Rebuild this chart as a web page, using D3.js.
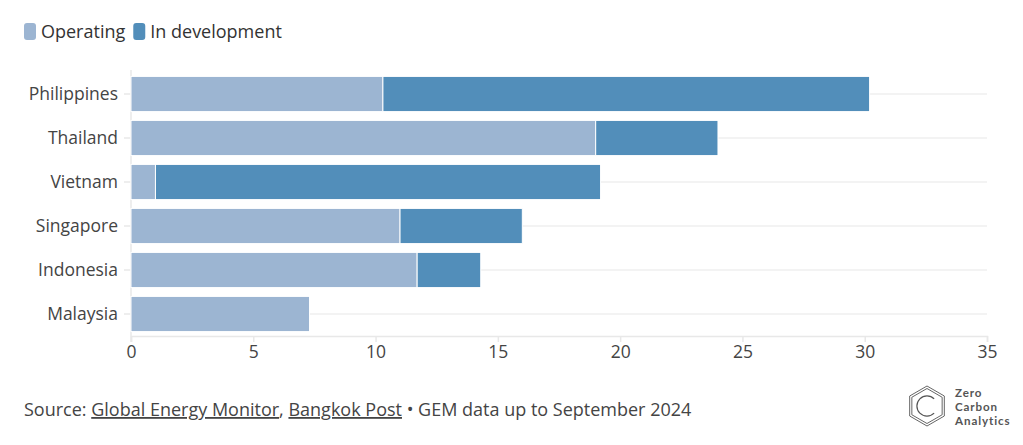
<!DOCTYPE html>
<html><head><meta charset="utf-8">
<script src="https://cdn.jsdelivr.net/npm/d3@7"></script>
<style>
body{margin:0;background:#fff;}
svg{display:block;font-family:"Open Sans",Lato,sans-serif;}
</style></head>
<body><svg id="c" width="1023" height="445"></svg>
<script>
const countries = ["Philippines","Thailand","Vietnam","Singapore","Indonesia","Malaysia"];
const operating = [10.3, 19.0, 1.0, 11.0, 11.7, 7.3];
const inDevelopment = [19.9, 5.0, 18.2, 5.0, 2.6, 0];
const seriesNames = ["Operating","In development"];
const seriesColors = ["#9cb5d2","#528eba"];
const xTicks = [0,5,10,15,20,25,30,35];

const svg = d3.select("#c");
const x = d3.scaleLinear().domain([0,35]).range([131,987]);
const y = d3.scaleBand().domain(countries).range([72,336]).paddingInner(0.2).paddingOuter(0.1);

// gridlines
svg.append("g").selectAll("line").data(countries).join("line")
  .attr("x1",x(0)).attr("x2",x(35))
  .attr("y1",d=>y(d)+y.bandwidth()/2).attr("y2",d=>y(d)+y.bandwidth()/2)
  .attr("stroke","#efefef").attr("stroke-width",1.5);

// axes
const xa = svg.append("g").attr("transform","translate(0,336)")
  .call(d3.axisBottom(x).tickValues(xTicks).tickSize(6).tickPadding(4).tickFormat(d3.format("d")))
  .attr("font-family",null).attr("font-size",null);
xa.select(".domain").attr("stroke","#e8e8e8").attr("stroke-width",1.5);
xa.selectAll(".tick line").attr("stroke","#e8e8e8").attr("stroke-width",1.5);
xa.selectAll("text").attr("font-size",17.5).attr("fill","#444");

const ya = svg.append("g").attr("transform","translate(131,0)")
  .call(d3.axisLeft(y).tickSize(7).tickPadding(6))
  .attr("font-family",null).attr("font-size",null);
ya.select(".domain").attr("stroke","#e8e8e8").attr("stroke-width",1.5)
  .attr("d","M0,70V342");
ya.selectAll(".tick line").attr("stroke","#e8e8e8").attr("stroke-width",1.5);
ya.selectAll("text").attr("font-size",17.5).attr("fill","#444");

// stacked bars
const rows = countries.map((c,i)=>({country:c, Operating:operating[i], "In development":inDevelopment[i]}));
const stack = d3.stack().keys(seriesNames)(rows);
svg.append("g").selectAll("g").data(stack).join("g")
  .attr("fill",(d,i)=>seriesColors[i])
  .selectAll("rect").data(d=>d.filter(s=>s[1]-s[0]>0)).join("rect")
  .attr("x",d=>x(d[0])).attr("width",d=>x(d[1])-x(d[0]))
  .attr("y",d=>y(d.data.country)).attr("height",y.bandwidth())
  .attr("stroke","#fff").attr("stroke-width",1);

// legend
const lg = svg.append("g").attr("transform","translate(24,23)");
let lx = 0;
seriesNames.forEach((n,i)=>{
  lg.append("rect").attr("x",lx).attr("y",0).attr("width",12).attr("height",17).attr("rx",3).attr("fill",seriesColors[i]);
  const t = lg.append("text").attr("x",lx+17).attr("y",14.5).attr("font-size",18).attr("fill","#333").text(n);
  lx += 17 + t.node().getComputedTextLength() + 8;
});

// source
const src = svg.append("text").attr("x",24).attr("y",416).attr("font-size",18).attr("fill","#444");
src.append("tspan").text("Source: ");
src.append("tspan").attr("text-decoration","underline").text("Global Energy Monitor");
src.append("tspan").text(", ");
src.append("tspan").attr("text-decoration","underline").text("Bangkok Post");
src.append("tspan").text(" • GEM data up to September 2024");

// logo
const lo = svg.append("g").attr("transform","translate(927,406)");
const hex = r => d3.range(6).map(k=>{const a=Math.PI/3*k - Math.PI/2; return [r*Math.cos(a), r*Math.sin(a)];});
[20,17.5].forEach(r=>lo.append("polygon").attr("points",hex(r).map(p=>p.join(",")).join(" "))
  .attr("fill","none").attr("stroke","#666").attr("stroke-width",1));
lo.append("path").attr("d",d3.arc()({innerRadius:9.5,outerRadius:10.7,startAngle:Math.PI*0.75,endAngle:Math.PI*2.25}))
  .attr("fill","#555");
["Zero","Carbon","Analytics"].forEach((w,i)=>{
  svg.append("text").attr("x",955).attr("y",397+i*14).attr("font-family","Lato,sans-serif")
    .attr("font-size",11.6).attr("font-weight",700).attr("letter-spacing",0.9).attr("fill","#555").text(w);
});
</script></body></html>
